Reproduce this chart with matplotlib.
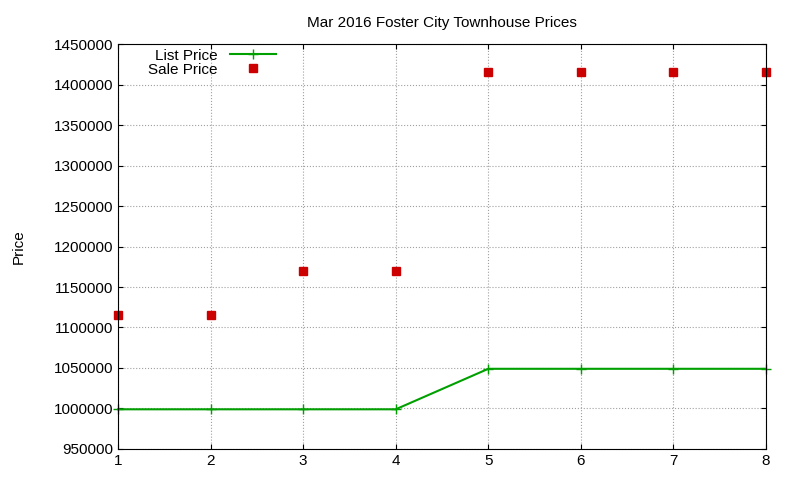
import matplotlib
matplotlib.use("Agg")
import matplotlib.pyplot as plt

plt.rcParams['font.family'] = ['Liberation Sans', 'DejaVu Sans']

x = [1, 2, 3, 4, 5, 6, 7, 8]
list_price = [999000, 999000, 999000, 999000, 1049000, 1049000, 1049000, 1049000]
sale_price = [1115000, 1115000, 1170000, 1170000, 1415000, 1415000, 1415000, 1415000]
yticks = list(range(950000, 1450001, 50000))

fig = plt.figure(figsize=(8, 4.8), dpi=100)
ax = fig.add_axes([0.1475, 0.0646, 0.81, 0.8437])
ax.plot(x, list_price, color="#00a000", marker="+", markersize=7, linewidth=1.5, label="List Price", clip_on=False)
ax.plot(x, sale_price, linestyle="none", marker="s", color="#cc0000", markersize=6, label="Sale Price", clip_on=False)
ax.set_xlim(1, 8)
ax.set_ylim(950000, 1450000)
ax.set_yticks(yticks)
ax.set_yticklabels([str(v) for v in yticks])
ax.set_xticks(x)
ax.grid(True, color="#a0a0a0", linestyle=":", linewidth=0.8)
ax.tick_params(direction="in", labelsize=11, top=True, right=True)
ax.set_ylabel("Price", fontsize=11, labelpad=20)
ax.set_title("Mar 2016 Foster City Townhouse Prices", fontsize=11, pad=12)
leg = ax.legend(loc="upper left", bbox_to_anchor=(0.03, 1.015), frameon=False, fontsize=11, markerfirst=False, handlelength=3, borderpad=0.2, labelspacing=0.0)
fig.savefig("out.png")
